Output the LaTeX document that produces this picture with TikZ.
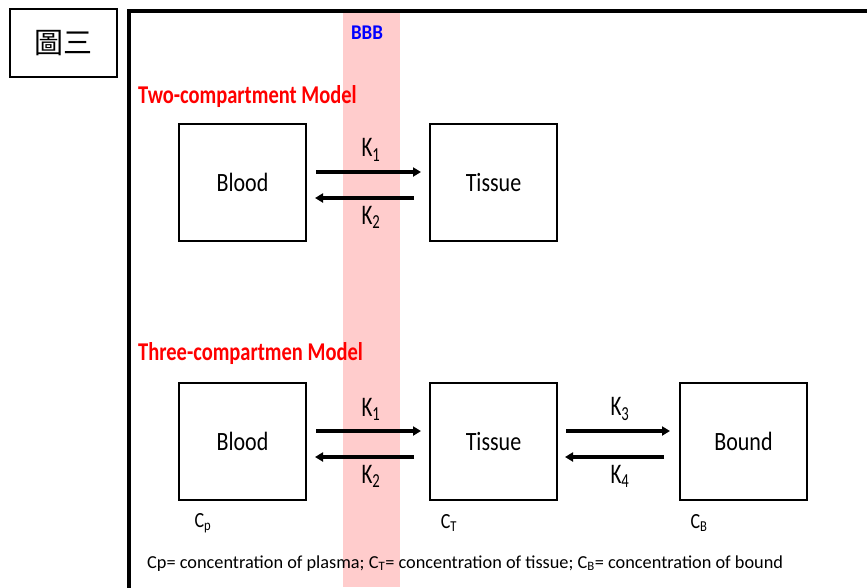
\documentclass[tikz,border=0pt]{standalone}
\usepackage{fontspec}
\usepackage{graphicx}
\setmainfont{Carlito}
\newfontfamily\cjkfont{Noto Sans CJK TC}
\usetikzlibrary{arrows.meta}
\definecolor{bbbpink}{RGB}{255,204,204}
\definecolor{titlered}{RGB}{255,0,0}
\definecolor{bbbblue}{RGB}{0,0,255}
% vertically stretched text
\newcommand\tallx[2]{\scalebox{1}[#1]{#2}}
\tikzset{
  compbox/.style={draw=black, line width=2.2pt, minimum width=127pt, minimum height=117pt, inner sep=0pt, font=\fontsize{22}{24}\selectfont},
  rate/.style={line width=3.2pt, -{Triangle[length=8pt,width=9pt]}},
  klabel/.style={font=\fontsize{21}{23}\selectfont, inner sep=0pt},
  clabel/.style={font=\fontsize{18}{20}\selectfont, inner sep=0pt},
  modeltitle/.style={font=\fontsize{20.5}{22}\selectfont\bfseries, text=titlered, inner sep=0pt, anchor=base west}
}
\begin{document}
\begin{tikzpicture}[x=1pt,y=-1pt]
\useasboundingbox (0,0) rectangle (867,587);
\fill[white] (0,0) rectangle (867,587);
% blood-brain barrier band
\fill[bbbpink] (343,11) rectangle (400,587);
% outer frame
\draw[line width=3.2pt] (129,590) -- (129,11) -- (870,11);
% figure label
\node[draw, line width=2.2pt, minimum width=107pt, minimum height=68pt, font=\cjkfont\fontsize{29}{31}\selectfont] (fig) at (63.5,43) {圖三};
\node[font=\fontsize{19}{21}\selectfont\bfseries, text=bbbblue, inner sep=0pt] (bbb) at (367,33) {\tallx{1.1}{BBB}};

% two-compartment model
\node[modeltitle] (t2) at (138,103) {\tallx{1.25}{Two-compartment Model}};
\node[compbox] (b1) at (242.5,182.5) {\tallx{1.2}{Blood}};
\node[compbox] (t1) at (493.5,182.5) {\tallx{1.2}{Tissue}};
\coordinate (a1s) at (316,172); \coordinate (a1e) at (421,172);
\coordinate (a2s) at (414,198); \coordinate (a2e) at (315,198);
\draw[rate] (a1s) -- (a1e);
\draw[rate] (a2s) -- (a2e);
\node[klabel] (k1a) at (371,150) {\tallx{1.35}{K\textsubscript{1}}};
\node[klabel] (k2a) at (371,217) {\tallx{1.35}{K\textsubscript{2}}};

% three-compartment model
\node[modeltitle] (t3) at (138,360) {\tallx{1.25}{Three-compartmen Model}};
\node[compbox] (b2) at (242.5,441.5) {\tallx{1.2}{Blood}};
\node[compbox] (t2b) at (493.5,441.5) {\tallx{1.2}{Tissue}};
\node[compbox] (bd) at (743.5,441.5) {\tallx{1.2}{Bound}};
\coordinate (c1s) at (316,431); \coordinate (c1e) at (421,431);
\coordinate (c2s) at (414,457); \coordinate (c2e) at (315,457);
\coordinate (c3s) at (566,431); \coordinate (c3e) at (670,431);
\coordinate (c4s) at (664,457); \coordinate (c4e) at (565,457);
\draw[rate] (c1s) -- (c1e);
\draw[rate] (c2s) -- (c2e);
\draw[rate] (c3s) -- (c3e);
\draw[rate] (c4s) -- (c4e);
\node[klabel] (k1b) at (371,409) {\tallx{1.35}{K\textsubscript{1}}};
\node[klabel] (k2b) at (371,476) {\tallx{1.35}{K\textsubscript{2}}};
\node[klabel] (k3) at (620,409) {\tallx{1.35}{K\textsubscript{3}}};
\node[klabel] (k4) at (620,476) {\tallx{1.35}{K\textsubscript{4}}};

% concentrations
\node[clabel] (cp) at (203,523) {\tallx{1.2}{C\textsubscript{p}}};
\node[clabel] (ct) at (449,523) {\tallx{1.2}{C\textsubscript{T}}};
\node[clabel] (cb) at (699,523) {\tallx{1.2}{C\textsubscript{B}}};
\node[font=\fontsize{18.3}{20}\selectfont, inner sep=0pt, anchor=base west] (legend) at (147,568)
  {Cp= concentration of plasma; C\textsubscript{T}= concentration of tissue; C\textsubscript{B}= concentration of bound};
\end{tikzpicture}
\end{document}
